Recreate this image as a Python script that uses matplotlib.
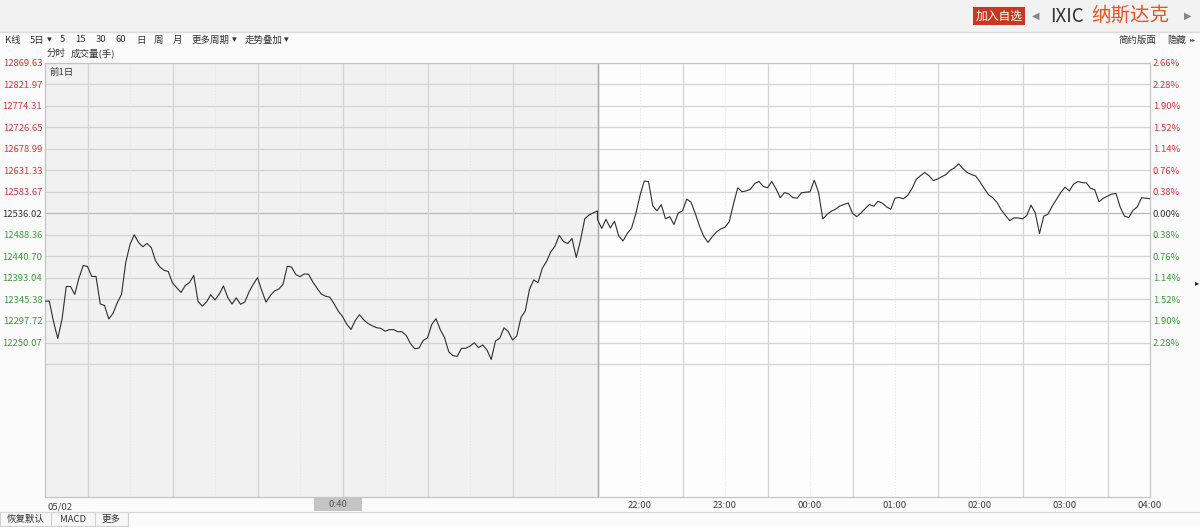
#! /usr/bin/env python3
# IXIC 5-day intraday chart (prior day + current day)

import matplotlib
matplotlib.use('Agg')
import matplotlib.pyplot as plt
from matplotlib.patches import Rectangle

plt.rcParams['font.family'] = ['Noto Sans CJK SC', 'DejaVu Sans']

W, H = 1200, 527

prev_close = 12536.02

price_levels = [12869.63, 12821.97, 12774.31, 12726.65, 12678.99, 12631.33, 12583.67,
                12536.02, 12488.36, 12440.70, 12393.04, 12345.38, 12297.72, 12250.07,
                12202.41]
pct_labels = ['2.66%', '2.28%', '1.90%', '1.52%', '1.14%', '0.76%', '0.38%', '0.00%',
              '0.38%', '0.76%', '1.14%', '1.52%', '1.90%', '2.28%']

hour_ticks = [420, 480, 540, 600, 660, 720, 780]
hour_labels = ['22:00', '23:00', '00:00', '01:00', '02:00', '03:00', '04:00']

# prices every 3 minutes, 21:30 -> 04:00
prev_day = [12341.5, 12341.9, 12296.6, 12259.0, 12301.0, 12374.0, 12374.0, 12356.3, 12393.3, 12420.5,
            12418.3, 12396.2, 12396.2, 12335.3, 12332.0, 12302.1, 12314.3, 12338.0, 12356.3, 12427.1,
            12467.0, 12488.4, 12471.4, 12461.9, 12469.2, 12460.3, 12430.9, 12417.4, 12409.9, 12407.2,
            12381.8, 12371.4, 12360.8, 12376.2, 12382.9, 12398.4, 12341.5, 12330.4, 12339.7, 12355.9,
            12344.2, 12357.2, 12375.1, 12349.7, 12335.1, 12349.0, 12334.6, 12339.5, 12361.9, 12378.9,
            12393.7, 12365.0, 12339.3, 12353.9, 12364.1, 12368.3, 12378.7, 12418.7, 12417.2, 12400.6,
            12395.7, 12401.7, 12401.2, 12384.2, 12370.3, 12357.4, 12352.6, 12350.4, 12336.0, 12319.6,
            12307.6, 12290.6, 12278.9, 12298.8, 12311.6, 12300.1, 12292.2, 12287.1, 12282.9, 12281.5,
            12275.1, 12278.4, 12278.7, 12274.0, 12273.8, 12265.6, 12247.5, 12236.2, 12237.7, 12254.8,
            12260.3, 12289.9, 12302.8, 12278.4, 12261.2, 12229.5, 12220.9, 12219.6, 12237.1, 12237.3,
            12241.9, 12249.5, 12238.8, 12244.6, 12233.3, 12212.5, 12253.4, 12259.6, 12282.6, 12274.5,
            12255.6, 12264.5, 12305.4, 12319.8, 12367.8, 12388.6, 12382.4, 12413.9, 12429.3, 12450.6,
            12463.2, 12487.3, 12473.4, 12469.2, 12480.2, 12438.2, 12476.3, 12523.8, 12532.2, 12537.1,
            12541.1]

cur_day = [12522.3, 12502.4, 12522.7, 12503.5, 12518.5, 12485.8, 12474.7, 12491.3, 12502.8, 12534.5,
           12575.4, 12607.2, 12606.1, 12552.6, 12541.5, 12555.0, 12523.8, 12528.5, 12511.2, 12536.7,
           12541.3, 12567.4, 12560.6, 12535.8, 12507.7, 12485.1, 12471.4, 12484.2, 12494.8, 12501.3,
           12505.2, 12517.4, 12556.8, 12592.4, 12583.6, 12585.6, 12589.3, 12601.9, 12606.4, 12595.5,
           12592.4, 12606.4, 12590.0, 12570.3, 12581.8, 12578.7, 12570.5, 12569.6, 12581.4, 12582.7,
           12583.4, 12609.2, 12583.1, 12523.4, 12533.3, 12540.6, 12545.1, 12551.9, 12555.5, 12558.6,
           12536.0, 12528.5, 12536.7, 12546.6, 12555.5, 12551.5, 12562.6, 12558.6, 12550.4, 12544.9,
           12569.6, 12571.0, 12568.1, 12575.8, 12590.7, 12611.0, 12619.2, 12626.3, 12619.2, 12608.4,
           12611.7, 12617.0, 12621.6, 12631.1, 12636.7, 12645.5, 12634.5, 12626.1, 12621.6, 12618.3,
           12605.3, 12590.7, 12577.2, 12570.3, 12560.1, 12543.5, 12531.1, 12519.6, 12526.0, 12525.6,
           12523.6, 12530.9, 12554.1, 12536.9, 12491.3, 12529.6, 12534.0, 12551.9, 12567.0, 12581.8,
           12593.8, 12585.3, 12600.2, 12606.1, 12603.9, 12603.3, 12591.5, 12588.0, 12561.4, 12569.2,
           12573.8, 12578.5, 12579.8, 12549.3, 12529.6, 12526.7, 12542.6, 12549.9, 12570.3, 12569.4,
           12568.1]

RED = '#d8373a'
GREEN = '#3c9a3c'
GRID = '#d4d4d4'


def fx(x):
    return x / W


def fy(y):
    return 1 - y / H


def level_color(v):
    if v > prev_close + 0.01:
        return RED
    if v < prev_close - 0.01:
        return GREEN
    return '#333333'


fig = plt.figure(figsize=(W / 100, H / 100), dpi=100, facecolor='#fbfbfb')

# header band
fig.patches.append(Rectangle((0, fy(32)), 1, 32 / H, transform=fig.transFigure,
                             facecolor='#f2f2f2', edgecolor='none', zorder=0))
fig.add_artist(plt.Line2D([0, 1], [fy(32), fy(32)], color='#dddddd', lw=1))
fig.text(fx(999), fy(16), '加入自选', color='white', fontsize=8.5, ha='center', va='center',
         bbox=dict(boxstyle='square,pad=0.25', fc='#c9381d', ec='none'))
fig.text(fx(1036), fy(16), '◀', color='#888888', fontsize=7, ha='center', va='center',
         family='DejaVu Sans')
fig.text(fx(1050), fy(16), 'IXIC', color='#333333', fontsize=13.5, ha='left', va='center')
fig.text(fx(1091), fy(15), '纳斯达克', color='#e8531f', fontsize=14, ha='left', va='center')
fig.text(fx(1188), fy(16), '▶', color='#888888', fontsize=7, ha='center', va='center',
         family='DejaVu Sans')

# toolbar
tool_items = [(5, 'K线'), (30, '5日'), (47, '▾'), (60, '5'), (75, '15'), (96, '30'), (116, '60'),
              (136, '日'), (154, '周'), (173, '月'), (192, '更多周期'), (232, '▾'),
              (245, '走势叠加'), (284, '▾')]
for x, s in tool_items:
    fig.text(fx(x), fy(40), s, color='#333333', fontsize=6.8, ha='left', va='center')
fig.text(fx(1119), fy(40), '简约版面', color='#333333', fontsize=6.8, ha='left', va='center')
fig.text(fx(1167), fy(40), '隐藏', color='#333333', fontsize=6.8, ha='left', va='center')
fig.text(fx(1190), fy(40), '▸▸', color='#555555', fontsize=4.5, ha='left', va='center',
         family='DejaVu Sans')
fig.text(fx(47), fy(53), '分时', color='#333333', fontsize=6.8, ha='left', va='center')
fig.text(fx(71), fy(53), '成交量(手)', color='#333333', fontsize=6.8, ha='left', va='center')

# main chart
ax = fig.add_axes([fx(45), fy(497), (1150 - 45) / W, (497 - 62.5) / H])
ax.set_facecolor('#fdfdfd')
ax.axvspan(0, 390, color='#f1f1f1', lw=0, zorder=0)

y_top = price_levels[0]
y_bot = y_top - 434.5 * 2.2127
ax.set_ylim(y_bot, y_top)
ax.set_xlim(0, 780)

for lv in price_levels:
    ax.axhline(lv, color='#b8b8b8' if lv == prev_close else GRID, lw=0.9, zorder=1)
for m in range(30, 780, 60):
    ax.axvline(m, color=GRID, lw=0.9, zorder=1)
for m in range(60, 780, 60):
    if m != 390:
        ax.axvline(m, color='#e4e4e4', lw=0.7, ls=(0, (1, 2)), zorder=1)
ax.axvline(390, color='#a8a8a8', lw=1.0, zorder=1)

t_prev = [3 * k for k in range(len(prev_day))]
t_cur = [390 + 3 * k for k in range(len(cur_day))]
ax.plot(t_prev + t_cur, prev_day + cur_day, color='#2e2e2e', lw=0.8, zorder=3)

for sp in ax.spines.values():
    sp.set_color('#c4c4c4')
    sp.set_linewidth(0.9)

ax.set_yticks(price_levels[:14])
ax.set_yticklabels(['%.2f' % v for v in price_levels[:14]])
ax.tick_params(axis='y', length=0, pad=2, labelsize=6.8)
for lab, v in zip(ax.get_yticklabels(), price_levels[:14]):
    lab.set_color(level_color(v))

ax.set_xticks(hour_ticks)
ax.set_xticklabels(hour_labels)
ax.tick_params(axis='x', length=0, pad=3, labelsize=6.8, labelcolor='#444444')

ax2 = ax.twinx()
ax2.set_ylim(ax.get_ylim())
ax2.set_yticks(price_levels[:14])
ax2.set_yticklabels(pct_labels)
ax2.tick_params(axis='y', length=0, pad=2, labelsize=6.8)
for lab, v in zip(ax2.get_yticklabels(), price_levels[:14]):
    lab.set_color(level_color(v))
for sp in ax2.spines.values():
    sp.set_visible(False)

ax.text(0.004, 0.985, '前1日', transform=ax.transAxes, fontsize=6.8, color='#333333',
        ha='left', va='top')
ax.text(2, -0.012, '05/02', transform=ax.get_xaxis_transform(), fontsize=6.8,
        color='#444444', ha='left', va='top')

# crosshair time tag
fig.patches.append(Rectangle((fx(314), fy(511)), 48 / W, 13 / H, transform=fig.transFigure,
                             facecolor='#c4c4c4', edgecolor='none'))
fig.text(fx(338), fy(504.5), '0:40', color='#555555', fontsize=6.8, ha='center', va='center')

# bottom tabs
fig.add_artist(plt.Line2D([0, 1], [fy(512), fy(512)], color='#d8d8d8', lw=0.8))
for x0, x1, s in [(0, 51, '恢复默认'), (51, 95, 'MACD'), (95, 128, '更多')]:
    fig.patches.append(Rectangle((fx(x0), fy(526)), (x1 - x0) / W, 14 / H,
                                 transform=fig.transFigure, facecolor='#f7f7f7',
                                 edgecolor='#d0d0d0', lw=0.8))
    fig.text(fx((x0 + x1) / 2), fy(519), s, color='#333333', fontsize=6.8,
             ha='center', va='center')

fig.text(fx(1197), fy(283), '▸', color='#222222', fontsize=6, ha='center', va='center',
         family='DejaVu Sans')

fig.savefig('out.png', dpi=100, facecolor=fig.get_facecolor())
